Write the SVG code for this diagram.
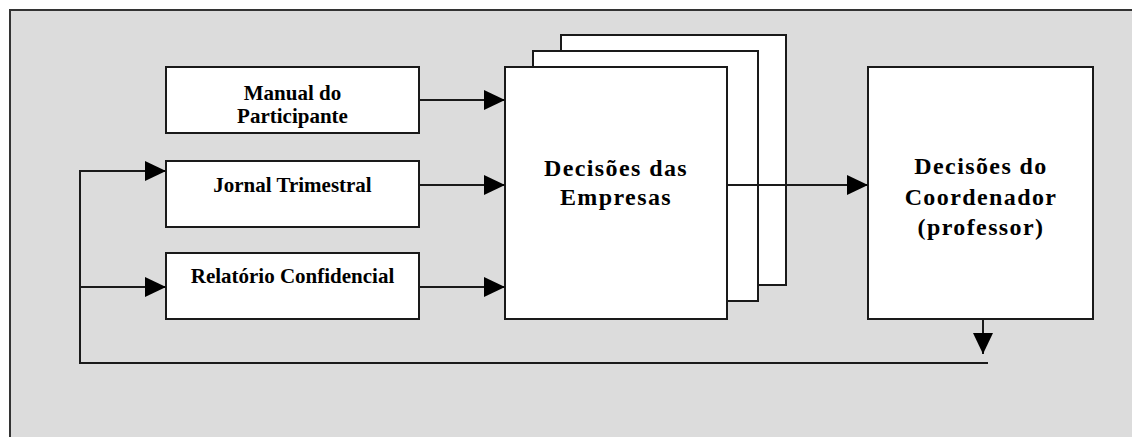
<svg xmlns="http://www.w3.org/2000/svg" width="1132" height="437" viewBox="0 0 1132 437">
  <style>
    .box { fill: #ffffff; stroke: #1a1a1a; stroke-width: 2; }
    .conn { fill: none; stroke: #1a1a1a; stroke-width: 2; }
    .sm { font-family: "Liberation Serif", "Times New Roman", serif; font-weight: bold; font-size: 21px; fill: #000; text-anchor: middle; }
    .lg { font-family: "Liberation Serif", "Times New Roman", serif; font-weight: bold; font-size: 24px; letter-spacing: 1.4px; fill: #000; text-anchor: middle; }
  </style>
  <defs>
    <marker id="arr" markerUnits="userSpaceOnUse" markerWidth="22" markerHeight="22" refX="21" refY="10" orient="auto">
      <path d="M0,0 L21,10 L0,20 Z" fill="#000"/>
    </marker>
  </defs>
  <rect x="0" y="0" width="1132" height="437" fill="#ffffff"/>
  <rect id="frame" x="10" y="10" width="1200" height="500" fill="#dcdcdc" stroke="#333" stroke-width="2"/>

  <g id="manual">
    <rect class="box" x="166" y="67" width="253" height="66"/>
    <text class="sm" x="292.5" y="100">Manual do</text>
    <text class="sm" x="292.5" y="123">Participante</text>
  </g>
  <g id="jornal">
    <rect class="box" x="166" y="161" width="253" height="66"/>
    <text class="sm" x="292.5" y="192">Jornal Trimestral</text>
  </g>
  <g id="relatorio">
    <rect class="box" x="166" y="253" width="253" height="66"/>
    <text class="sm" x="292.5" y="283">Relatório Confidencial</text>
  </g>
  <g id="empresas">
    <rect class="box" x="561" y="35" width="225" height="250"/>
    <rect class="box" x="533" y="51" width="225" height="250"/>
    <rect class="box" x="505" y="67" width="222" height="252"/>
    <text class="lg" x="616" y="176">Decisões das</text>
    <text class="lg" x="616" y="205">Empresas</text>
  </g>
  <g id="coordenador">
    <rect class="box" x="868" y="67" width="225" height="252"/>
    <text class="lg" x="981" y="174">Decisões do</text>
    <text class="lg" x="981" y="205">Coordenador</text>
    <text class="lg" x="981" y="235">(professor)</text>
  </g>

  <g id="connectors">
    <path class="conn" d="M419,100 H505" marker-end="url(#arr)"/>
    <path class="conn" d="M419,185 H505" marker-end="url(#arr)"/>
    <path class="conn" d="M419,287 H505" marker-end="url(#arr)"/>
    <path class="conn" d="M727,185 H868" marker-end="url(#arr)"/>
    <path class="conn" d="M983,319 V354" marker-end="url(#arr)"/>
    <path class="conn" d="M988,363 H80 V171 H166" marker-end="url(#arr)"/>
    <path class="conn" d="M80,287 H166" marker-end="url(#arr)"/>
  </g>
</svg>
